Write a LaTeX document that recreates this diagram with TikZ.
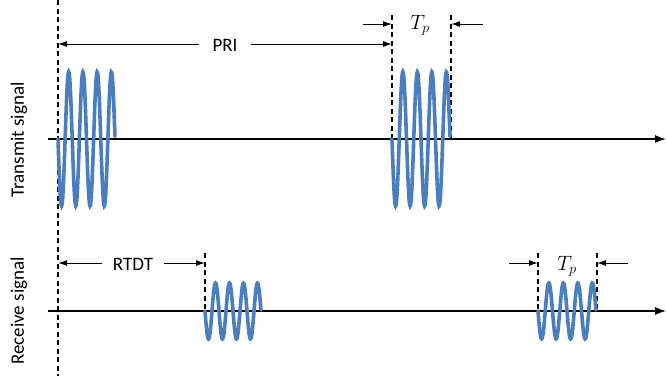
\documentclass[tikz,border=0pt]{standalone}
\usepackage{fontspec}
\setmainfont{Carlito}
\usetikzlibrary{arrows.meta}
\definecolor{waveblue}{RGB}{74,126,190}
\begin{document}
\begin{tikzpicture}[x=1pt,y=-1pt,
  lbl/.style={font=\fontsize{19}{22}\selectfont, inner sep=0pt},
  mathlbl/.style={font=\fontsize{22}{26}\selectfont, inner sep=0pt},
  guide/.style={dash pattern=on 5pt off 3.5pt, line width=1.3pt},
  dimarrow/.style={line width=1pt, -{Latex[length=9pt,width=6pt]}},
  axisline/.style={line width=1.2pt, -{Latex[length=11pt,width=8pt]}},
  wave/.style={line width=3.6pt, color=waveblue, line cap=round}]
\useasboundingbox (0,0) rectangle (667,376);

% guide lines
\coordinate (g0t) at (58,0);   \coordinate (g0b) at (58,376);
\coordinate (g1t) at (392,15); \coordinate (g1b) at (392,139);
\coordinate (g2t) at (451,15); \coordinate (g2b) at (451,139);
\coordinate (g3t) at (205,253); \coordinate (g3b) at (205,311);
\coordinate (g4t) at (538,253); \coordinate (g4b) at (538,311);
\coordinate (g5t) at (597,253); \coordinate (g5b) at (597,311);
\foreach \g in {0,...,5} {\draw[guide] (g\g t) -- (g\g b);}

% axes
\coordinate (tx0) at (48,139); \coordinate (tx1) at (666,139);
\coordinate (rx0) at (48,311); \coordinate (rx1) at (666,311);
\draw[axisline] (tx0) -- (tx1);
\draw[axisline] (rx0) -- (rx1);

% waves
\draw[wave] plot[domain=0:1, samples=161, smooth] ({58+57*\x},{139+67*sin(4*360*\x)});
\draw[wave] plot[domain=0:1, samples=161, smooth] ({392+58*\x},{139+67*sin(4*360*\x)});
\draw[wave] plot[domain=0:1, samples=161, smooth] ({205+56*\x},{311+28*sin(4*360*\x)});
\draw[wave] plot[domain=0:1, samples=161, smooth] ({538+58*\x},{311+28*sin(4*360*\x)});

% labels
\node[lbl, rotate=90] (tlab) at (19,140) {Transmit signal};
\node[lbl, rotate=90] (rlab) at (19,311) {Receive signal};

% PRI
\node[lbl, inner xsep=13pt] (pri) at (225,45) {PRI};
\coordinate (pril) at (58,44); \coordinate (prir) at (392,44);
\draw[dimarrow] (pri.west |- pril) -- (pril);
\draw[dimarrow] (pri.east |- prir) -- (prir);

% Tp transmit
\node[mathlbl] (tp1) at (420,25) {$T_p$};
\coordinate (tp1a) at (363,24); \coordinate (tp1b) at (392,24);
\coordinate (tp1c) at (483,24); \coordinate (tp1d) at (451,24);
\draw[dimarrow] (tp1a) -- (tp1b);
\draw[dimarrow] (tp1c) -- (tp1d);

% RTDT
\node[lbl, inner xsep=10.5pt] (rtdt) at (133,264) {RTDT};
\coordinate (rtl) at (58,263); \coordinate (rtr) at (205,263);
\draw[dimarrow] (rtdt.west |- rtl) -- (rtl);
\draw[dimarrow] (rtdt.east |- rtr) -- (rtr);

% Tp receive
\node[mathlbl] (tp2) at (567,266) {$T_p$};
\coordinate (tp2a) at (509,263); \coordinate (tp2b) at (538,263);
\coordinate (tp2c) at (628,263); \coordinate (tp2d) at (597,263);
\draw[dimarrow] (tp2a) -- (tp2b);
\draw[dimarrow] (tp2c) -- (tp2d);
\end{tikzpicture}
\end{document}
